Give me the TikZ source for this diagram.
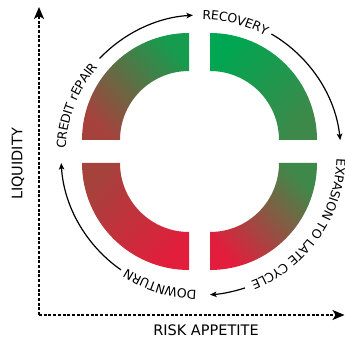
\documentclass[tikz,border=0pt]{standalone}
\usepackage{fontspec}
\newfontfamily\dv{DejaVu Sans}
\usetikzlibrary{arrows.meta,decorations.text}
\definecolor{gA}{RGB}{0,166,81}
\definecolor{gB}{RGB}{62,137,74}
\definecolor{gC}{RGB}{22,156,78}
\definecolor{rA}{RGB}{226,30,60}
\definecolor{rB}{RGB}{165,66,60}
\newcommand\arcfnt{\dv\fontsize{12.5}{14}\selectfont}
\newcommand\axfnt{\dv\fontsize{14.5}{17}\selectfont}
\begin{document}
\begin{tikzpicture}[x=1pt,y=1pt,
  cyc/.style={line width=1.2pt,-{Stealth[length=6.5pt,width=5.5pt,inset=1.5pt]}},
  axisline/.style={line width=1.6pt,dash pattern=on 3pt off 1.7pt,-{Stealth[length=12pt,width=10pt,inset=3pt]}},
  arctext/.style={decorate,decoration={text along path,text align=center,raise=-4.5pt}},
  axlabel/.style={font=\axfnt,inner sep=0pt,text height=10.6pt,text depth=0pt}
]
\useasboundingbox (0,0) rectangle (345,340);
\coordinate (C) at (201,185);
% quadrants
\shade[top color=gA,bottom color=gB,shading angle=45]
  (279,200) arc[start angle=0,end angle=90,radius=69pt] -- (210,307)
  arc[start angle=90,end angle=0,radius=107pt] -- cycle;
\shade[top color=gC,bottom color=rB,shading angle=-45]
  (189,269) arc[start angle=90,end angle=180,radius=69pt] -- (82,200)
  arc[start angle=180,end angle=90,radius=107pt] -- cycle;
\shade[top color=rB,bottom color=rA,shading angle=45]
  (120,177) arc[start angle=180,end angle=270,radius=69pt] -- (189,70)
  arc[start angle=270,end angle=180,radius=107pt] -- cycle;
\shade[top color=gB,bottom color=rA,shading angle=-45]
  (210,108) arc[start angle=270,end angle=360,radius=69pt] -- (317,177)
  arc[start angle=0,end angle=-90,radius=107pt] -- cycle;
% cycle arrows
\draw[cyc] (C) ++(136.4:140pt) arc[start angle=136.4,end angle=93.3,radius=140pt];
\draw[cyc] (C) ++(59.8:140pt) arc[start angle=59.8,end angle=6.1,radius=140pt];
\draw[cyc] (C) ++(-71.7:140pt) arc[start angle=-71.7,end angle=-86.3,radius=140pt];
\draw[cyc] (C) ++(-124.9:140pt) arc[start angle=-124.9,end angle=-176.7,radius=140pt];
% arc texts
\path[arctext,decoration={text={|\arcfnt|RECOVERY}}]
  (C) ++(100:140pt) arc[start angle=100,end angle=51,radius=140pt];
\path[arctext,decoration={text={|\arcfnt|EXPASION TO LATE CYCLE}}]
  (C) ++(10:140pt) arc[start angle=10,end angle=-80,radius=140pt];
\path[arctext,decoration={text={|\arcfnt|DOWNTURN}}]
  (C) ++(-85:140pt) arc[start angle=-85,end angle=-130,radius=140pt];
\path[arctext,decoration={text={|\arcfnt|CREDIT rEPAIR}}]
  (C) ++(185:140pt) arc[start angle=185,end angle=132,radius=140pt];
% axes
\coordinate (O) at (39,25);
\coordinate (Ytip) at (39,333);
\coordinate (Xtip) at (344.5,25);
\draw[axisline] (O) -- (Ytip);
\draw[axisline] (O) -- (Xtip);
\node[axlabel,rotate=90] (liq) at (17,176) {LIQUIDITY};
\node[axlabel] (risk) at (206,9.5) {RISK APPETITE};
\end{tikzpicture}
\end{document}
